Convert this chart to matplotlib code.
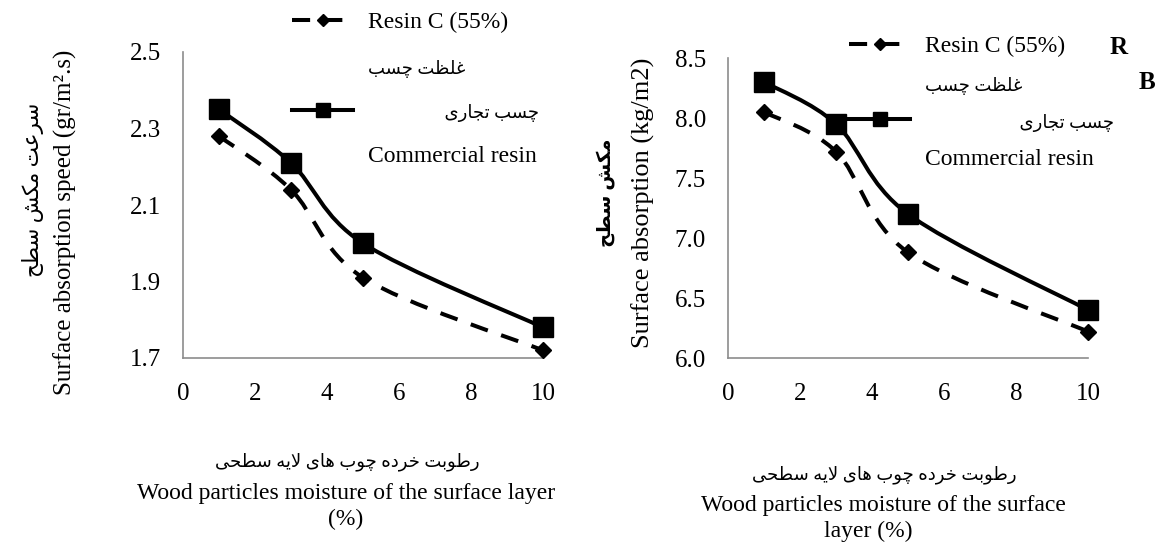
import numpy as np
import matplotlib
matplotlib.use("Agg")
import matplotlib.pyplot as plt
from matplotlib.path import Path
from matplotlib.patches import PathPatch
from matplotlib.lines import Line2D

# datos
moisture = [1, 3, 5, 10]
speed_commercial = [2.35, 2.21, 2.00, 1.78]
speed_resin_c = [2.28, 2.14, 1.91, 1.72]
absorb_commercial = [8.30, 7.95, 7.20, 6.40]
absorb_resin_c = [8.05, 7.72, 6.88, 6.22]

left_yticks = [1.7, 1.9, 2.1, 2.3, 2.5]
right_yticks = [6.0, 6.5, 7.0, 7.5, 8.0, 8.5]
xticks = [0, 2, 4, 6, 8, 10]

FAMILY = ["Liberation Serif", "DejaVu Sans"]
plt.rcParams["font.family"] = FAMILY

# formas de presentacion arabes (iso, fin, ini, med)
FORMS = {
    "ا": ("\uFE8D", "\uFE8E", None, None),
    "ب": ("\uFE8F", "\uFE90", "\uFE91", "\uFE92"),
    "ت": ("\uFE95", "\uFE96", "\uFE97", "\uFE98"),
    "ج": ("\uFE9D", "\uFE9E", "\uFE9F", "\uFEA0"),
    "ح": ("\uFEA1", "\uFEA2", "\uFEA3", "\uFEA4"),
    "خ": ("\uFEA5", "\uFEA6", "\uFEA7", "\uFEA8"),
    "د": ("\uFEA9", "\uFEAA", None, None),
    "ر": ("\uFEAD", "\uFEAE", None, None),
    "س": ("\uFEB1", "\uFEB2", "\uFEB3", "\uFEB4"),
    "ش": ("\uFEB5", "\uFEB6", "\uFEB7", "\uFEB8"),
    "ط": ("\uFEC1", "\uFEC2", "\uFEC3", "\uFEC4"),
    "ظ": ("\uFEC5", "\uFEC6", "\uFEC7", "\uFEC8"),
    "ع": ("\uFEC9", "\uFECA", "\uFECB", "\uFECC"),
    "غ": ("\uFECD", "\uFECE", "\uFECF", "\uFED0"),
    "ل": ("\uFEDD", "\uFEDE", "\uFEDF", "\uFEE0"),
    "م": ("\uFEE1", "\uFEE2", "\uFEE3", "\uFEE4"),
    "ه": ("\uFEE9", "\uFEEA", "\uFEEB", "\uFEEC"),
    "و": ("\uFEED", "\uFEEE", None, None),
    "ک": ("\uFB8E", "\uFB8F", "\uFB90", "\uFB91"),
    "چ": ("\uFB7A", "\uFB7B", "\uFB7C", "\uFB7D"),
    "ی": ("\uFBFC", "\uFBFD", "\uFBFE", "\uFBFF"),
}


def dual(c):
    return c in FORMS and FORMS[c][2] is not None


def fa(s):
    # unir letras y poner en orden visual (derecha a izquierda)
    res = []
    i = 0
    n = len(s)
    while i < n:
        c = s[i]
        if c not in FORMS:
            res.append(c)
            i += 1
            continue
        join_prev = i > 0 and dual(s[i - 1])
        if c == "ل" and i + 1 < n and s[i + 1] == "ا":
            res.append("\uFEFC" if join_prev else "\uFEFB")
            i += 2
            continue
        join_next = dual(c) and i + 1 < n and s[i + 1] in FORMS
        iso, fin, ini, med = FORMS[c]
        if join_prev and join_next:
            res.append(med)
        elif join_prev:
            res.append(fin)
        elif join_next:
            res.append(ini)
        else:
            res.append(iso)
        i += 1
    return "".join(reversed(res))


def smooth_path(x, y):
    # curva suavizada tipo Excel
    pts = np.column_stack([x, y]).astype(float)
    n = len(pts)
    verts = [pts[0]]
    codes = [Path.MOVETO]
    for i in range(n - 1):
        p0 = pts[i - 1] if i > 0 else pts[i]
        p1 = pts[i]
        p2 = pts[i + 1]
        p3 = pts[i + 2] if i + 2 < n else pts[i + 1]
        verts += [p1 + (p2 - p0) / 6, p2 - (p3 - p1) / 6, p2]
        codes += [Path.CURVE4] * 3
    return Path(verts, codes)


DASH = (0, (4.5, 3.5))


def draw_panel(ax, y_comm, y_resin, ylim, yticks, fmt):
    ax.add_patch(PathPatch(smooth_path(moisture, y_resin), fill=False, lw=2.9,
                           ec="black", linestyle=DASH, clip_on=False, zorder=2))
    ax.add_patch(PathPatch(smooth_path(moisture, y_comm), fill=False, lw=2.9,
                           ec="black", clip_on=False, zorder=2))
    ax.plot(moisture, y_resin, ls="none", marker="D", ms=8.5, color="black",
            clip_on=False, zorder=3)
    ax.plot(moisture, y_comm, ls="none", marker="s", ms=14, color="black",
            clip_on=False, zorder=3)
    ax.set_xlim(0, 10)
    ax.set_ylim(*ylim)
    ax.set_xticks(xticks)
    ax.set_yticks(yticks)
    ax.set_yticklabels([fmt % v for v in yticks])
    for s in ["top", "right"]:
        ax.spines[s].set_visible(False)
    for s in ["left", "bottom"]:
        ax.spines[s].set_color("#8c8c8c")
        ax.spines[s].set_linewidth(1.2)
    ax.tick_params(axis="both", length=0, labelsize=18)
    ax.tick_params(axis="y", pad=16)
    ax.tick_params(axis="x", pad=18)


def add_legend(ax, anchor, spacing, indent):
    h_resin = Line2D([], [], color="black", lw=2.9, linestyle=DASH, marker="D", ms=6)
    h_comm = Line2D([], [], color="black", lw=2.9, marker="s", ms=10)
    blank = Line2D([], [], color="none")
    leg = ax.legend([h_resin, blank, h_comm, blank],
                    ["Resin C (55%)", fa("غلظت چسب"), " " * indent + fa("چسب تجاری"), "Commercial resin"],
                    loc="upper left", bbox_to_anchor=anchor, bbox_transform=fig.transFigure,
                    frameon=False, prop={"family": FAMILY, "size": 17}, handlelength=2.6,
                    handletextpad=0.6, labelspacing=spacing, borderpad=0, borderaxespad=0)
    leg.get_texts()[1].set_fontsize(13)
    leg.get_texts()[2].set_fontsize(13)
    return leg


W, H = 1158, 543
fig = plt.figure(figsize=(W / 100, H / 100), dpi=100)
ax1 = fig.add_axes([183 / W, 1 - 358 / H, 360 / W, 306 / H])
ax2 = fig.add_axes([728 / W, 1 - 358 / H, 360 / W, 300 / H])

draw_panel(ax1, speed_commercial, speed_resin_c, (1.7, 2.5), left_yticks, "%.1f")
draw_panel(ax2, absorb_commercial, absorb_resin_c, (6.0, 8.5), right_yticks, "%.1f")

add_legend(ax1, (292 / W, 1 - 12 / H), 1.0, 17)
add_legend(ax2, (849 / W, 1 - 36 / H), 0.7, 21)

# etiquetas del eje y
fig.text(33 / W, 1 - 190 / H, fa("سرعت مکش سطح"), rotation=90, ha="center", va="center", fontsize=15.5)
fig.text(65 / W, 1 - 222 / H, "Surface absorption speed (gr/m²" + ".s)", rotation=90,
         ha="center", va="center", fontsize=18)
fig.text(606 / W, 1 - 193 / H, fa("مکش سطح"), rotation=90, ha="center", va="center",
         fontsize=14, fontweight="bold")
fig.text(643 / W, 1 - 203 / H, "Surface absorption (kg/m2)", rotation=90,
         ha="center", va="center", fontsize=19)

# etiquetas del eje x
fig.text(347 / W, 1 - 462 / H, fa("رطوبت خرده چوب های لایه سطحی"), ha="center", va="center", fontsize=13)
fig.text(346 / W, 1 - 494 / H, "Wood particles moisture of the surface layer", ha="center",
         va="center", fontsize=17)
fig.text(346 / W, 1 - 519 / H, "(%)", ha="center", va="center", fontsize=17)
fig.text(884 / W, 1 - 475 / H, fa("رطوبت خرده چوب های لایه سطحی"), ha="center", va="center", fontsize=13)
fig.text(883 / W, 1 - 506 / H, "Wood particles moisture of the surface", ha="center",
         va="center", fontsize=17)
fig.text(868 / W, 1 - 531 / H, "layer (%)", ha="center", va="center", fontsize=17)

fig.text(1110 / W, 1 - 47 / H, "R", ha="left", va="center", fontsize=18, fontweight="bold")
fig.text(1139 / W, 1 - 82 / H, "B", ha="left", va="center", fontsize=18, fontweight="bold")

fig.savefig("out.png", dpi=100)
